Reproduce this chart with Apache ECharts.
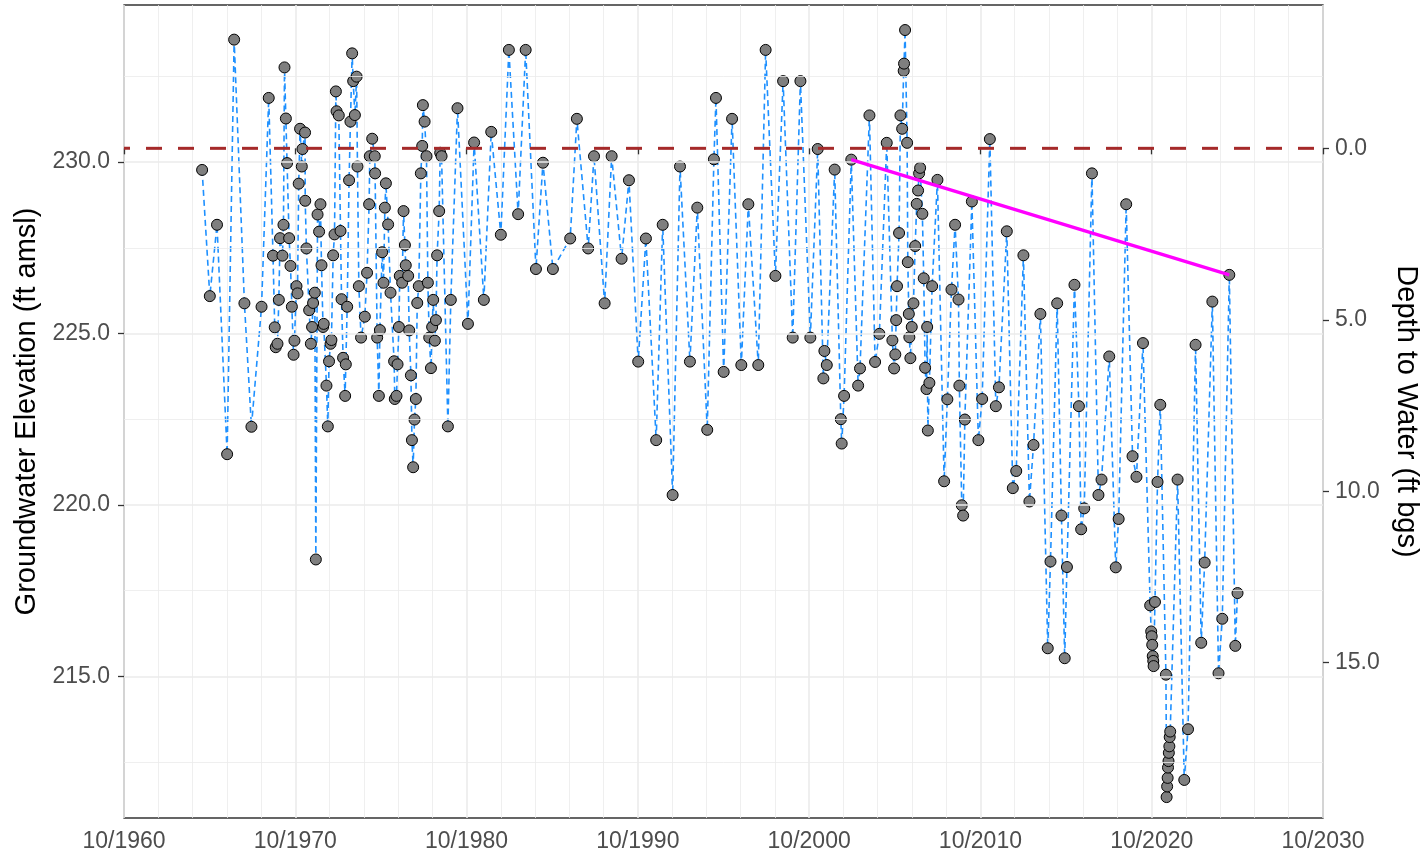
<!DOCTYPE html>
<html>
<head>
<meta charset="utf-8">
<script src="https://cdn.jsdelivr.net/npm/echarts@6/dist/echarts.min.js"></script>
<style>
  html, body { margin: 0; padding: 0; background: #ffffff; }
  #chart { width: 1426px; height: 857px; }
</style>
</head>
<body>
<div id="chart"></div>
<script>
// ---- data (decimal years, elevation in ft amsl) ----
const X0 = 1960.75; // 10/1960, left end of the time axis
const dates = [
1965.31,1965.76,1966.18,1966.77,1967.18,1967.78,1968.19,1968.78,1969.20,1969.45,
1969.55,1969.61,1969.71,1969.79,1969.86,1970.00,1970.06,1970.12,1970.20,1970.27,
1970.39,1970.47,1970.55,1970.65,1970.70,1970.82,1970.88,1970.95,1971.03,1971.13,
1971.17,1971.32,1971.33,1971.40,1971.56,1971.66,1971.73,1971.79,1971.89,1971.95,
1972.05,1972.14,1972.22,1972.28,1972.37,1972.41,1972.57,1972.65,1972.72,1972.81,
1972.86,1972.96,1973.04,1973.12,1973.16,1973.29,1973.39,1973.45,1973.54,1973.66,
1973.70,1973.78,1973.89,1973.97,1974.07,1974.13,1974.23,1974.33,1974.38,1974.46,
1974.59,1974.81,1974.94,1975.06,1975.10,1975.24,1975.39,1975.41,1975.53,1975.63,
1975.69,1975.82,1975.90,1975.98,1976.04,1976.17,1976.31,1976.52,1976.56,1976.66,
1976.72,1976.80,1976.85,1976.99,1977.07,1977.15,1977.20,1977.34,1977.40,1977.50,
1977.56,1977.63,1977.71,1977.79,1977.87,1977.96,1978.08,1978.16,1978.20,1978.30,
1978.41,1978.49,1978.57,1978.67,1978.74,1978.80,1978.90,1978.96,1979.03,1979.15,
1979.21,1979.29,1979.66,1979.83,1980.22,1980.83,1981.19,1981.76,1982.19,1982.75,
1983.22,1983.76,1984.20,1984.80,1985.21,1985.79,1986.80,1987.19,1987.85,1988.19,
1988.81,1989.22,1989.80,1990.23,1990.77,1991.22,1991.82,1992.20,1992.78,1993.21,
1993.79,1994.22,1994.80,1995.19,1995.31,1995.76,1996.25,1996.79,1997.20,1997.78,
1998.21,1998.78,1999.23,1999.79,2000.24,2000.82,2001.25,2001.58,2001.64,2001.78,
2002.24,2002.60,2002.65,2002.79,2003.21,2003.61,2003.72,2004.27,2004.60,2004.85,
2005.28,2005.61,2005.71,2005.78,2005.83,2005.88,2006.00,2006.08,2006.18,2006.27,
2006.29,2006.35,2006.47,2006.51,2006.57,2006.60,2006.66,2006.74,2006.84,2006.94,
2007.03,2007.11,2007.17,2007.23,2007.36,2007.44,2007.52,2007.60,2007.64,2007.68,
2007.77,2007.93,2008.24,2008.63,2008.82,2009.06,2009.27,2009.47,2009.52,2009.66,
2009.74,2009.84,2010.25,2010.63,2010.85,2011.30,2011.65,2011.83,2012.29,2012.64,
2012.84,2013.26,2013.61,2013.85,2014.25,2014.68,2014.84,2015.23,2015.48,2015.67,
2015.80,2016.24,2016.50,2016.63,2016.81,2017.26,2017.64,2017.82,2018.27,2018.65,
2018.82,2019.26,2019.63,2019.86,2020.24,2020.66,2020.72,2020.75,2020.78,2020.81,
2020.84,2020.86,2020.94,2021.09,2021.25,2021.58,2021.62,2021.65,2021.68,2021.70,
2021.73,2021.75,2021.78,2021.80,2021.83,2022.26,2022.65,2022.87,2023.31,2023.64,
2023.84,2024.29,2024.65,2024.87,2025.28,2025.63,2025.76
];
const elevations = [
229.77,226.09,228.17,221.48,233.57,225.88,222.28,225.78,231.87,227.27,
225.18,224.60,224.70,225.98,227.78,227.27,228.17,232.76,231.27,229.97,
227.78,226.97,225.78,224.38,224.79,226.38,226.17,229.37,230.97,229.87,
230.38,230.86,228.87,227.48,225.68,224.70,225.19,225.89,226.19,218.41,
228.47,227.97,228.77,226.99,225.19,225.28,223.48,222.29,224.19,224.70,
224.81,227.28,227.89,232.06,231.48,231.36,227.99,226.00,224.29,223.18,
224.10,225.78,229.47,231.18,233.17,232.36,231.37,232.49,229.87,226.38,
224.88,225.49,226.77,228.77,230.17,230.68,230.17,229.67,224.88,223.18,
225.10,227.37,226.48,228.67,229.38,228.18,226.19,224.19,223.09,223.18,
224.10,225.19,226.68,226.48,228.57,227.58,226.99,226.68,225.09,223.78,
221.89,221.10,222.49,223.09,225.89,226.38,229.67,230.47,231.66,231.18,
230.17,226.48,224.88,223.99,225.19,225.98,224.79,225.39,227.28,228.57,
230.27,230.17,222.29,225.98,231.57,225.28,230.57,225.98,230.88,227.88,
233.27,228.48,233.27,226.88,229.98,226.88,227.77,231.26,227.48,230.17,
225.88,230.17,227.18,229.47,224.18,227.77,221.89,228.17,220.29,229.87,
224.18,228.67,222.19,230.08,231.87,223.88,231.26,224.08,228.77,224.08,
233.27,226.68,232.36,224.88,232.36,224.88,230.38,223.69,224.49,224.08,
229.78,222.50,221.79,223.18,230.07,223.48,223.98,231.36,224.17,224.99,
230.56,224.80,223.98,224.39,225.39,226.38,227.93,231.36,230.97,232.66,
232.87,233.85,230.56,227.08,225.57,224.89,224.28,225.19,225.88,227.55,
228.78,229.17,229.67,229.83,228.49,226.61,224.00,223.38,225.19,222.17,
223.56,226.38,229.48,220.69,223.08,226.28,228.17,225.99,223.48,219.99,
219.69,222.49,228.85,221.89,223.09,230.67,222.88,223.43,227.98,220.49,
220.99,227.28,220.10,221.75,225.57,215.82,218.35,225.88,219.69,215.53,
218.19,226.42,222.88,219.29,219.90,229.67,220.29,220.74,224.33,218.18,
219.59,228.77,221.42,220.82,224.72,217.07,216.31,216.17,215.92,215.59,
215.45,215.30,217.17,220.67,222.92,215.05,211.48,211.79,212.04,212.34,
212.53,212.77,212.96,213.23,213.39,220.74,211.98,213.46,224.67,215.98,
218.32,225.93,215.09,216.68,226.71,215.89,217.43
];
const trendDates = [2003.21, 2025.28];
const trendElev = [230.07, 226.71];
const groundSurface = 230.40;          // depth 0.0
const elevTicks = [215, 220, 225, 230];
const depthTicks = [0, 5, 10, 15];
const elevMajorGrid = [215, 220, 225, 230];
const elevMinorGrid = [212.5, 217.5, 222.5, 227.5, 232.5];
const xSpan = 70;                      // 10/1960 .. 10/2030
const yMin = 210.87, yMax = 234.58;

// ---- build ----
const pts = dates.map((d, i) => [d - X0, elevations[i]]);
const trend = trendDates.map((d, i) => [d - X0, trendElev[i]]);
const FONT = '"Liberation Sans", Arial, Helvetica, sans-serif';
const TICK = { show: true, inside: false, length: 6, lineStyle: { color: '#333333', width: 1.3 } };

const chart = echarts.init(document.getElementById('chart'), null, { renderer: 'canvas' });
chart.setOption({
  animation: false,
  backgroundColor: '#ffffff',
  textStyle: { fontFamily: FONT },
  grid: { left: 124, right: 103, top: 5, bottom: 39, show: true, borderColor: '#333333', borderWidth: 1.3,
    backgroundColor: 'transparent', containLabel: false, outerBoundsMode: 'none' },
  xAxis: {
    type: 'value', min: 0, max: xSpan, interval: 10,
    axisLine: { show: false },
    axisTick: TICK,
    axisLabel: { fontSize: 23, color: '#4D4D4D', margin: 12, fontFamily: FONT,
      formatter: v => '10/' + Math.floor(X0 + v) },
    splitLine: { show: true, lineStyle: { color: '#EBEBEB', width: 1.6 } },
    minorTick: { show: false, splitNumber: 5 },
    minorSplitLine: { show: true, lineStyle: { color: '#EBEBEB', width: 0.8 } }
  },
  yAxis: [
    {
      type: 'value', position: 'left', min: yMin, max: yMax,
      axisLine: { show: false },
      axisTick: Object.assign({ customValues: elevTicks }, TICK),
      axisLabel: { customValues: elevTicks, fontSize: 23, color: '#4D4D4D', margin: 14, fontFamily: FONT,
        formatter: v => Number(v).toFixed(1) },
      splitLine: { show: false },
      name: 'Groundwater Elevation (ft amsl)', nameLocation: 'middle', nameGap: 80, nameRotate: 90,
      nameTextStyle: { fontSize: 29, color: '#000000', fontFamily: FONT }
    },
    {
      type: 'value', position: 'right', inverse: true,
      min: groundSurface - yMax, max: groundSurface - yMin,
      axisLine: { show: false },
      axisTick: Object.assign({ customValues: depthTicks }, TICK),
      axisLabel: { customValues: depthTicks, fontSize: 23, color: '#4D4D4D', margin: 12, fontFamily: FONT,
        formatter: v => Number(v).toFixed(1) },
      splitLine: { show: false },
      name: 'Depth to Water (ft bgs)', nameLocation: 'middle', nameGap: 68, nameRotate: -90,
      nameTextStyle: { fontSize: 29, color: '#000000', fontFamily: FONT }
    }
  ],
  series: [
    {
      name: 'grid', type: 'line', data: [], z: 1, silent: true,
      markLine: {
        silent: true, symbol: ['none', 'none'], label: { show: false }, animation: false,
        data: elevMajorGrid.map(v => ({ yAxis: v, lineStyle: { color: '#EBEBEB', width: 1.6, type: 'solid' } }))
          .concat(elevMinorGrid.map(v => ({ yAxis: v, lineStyle: { color: '#EBEBEB', width: 0.8, type: 'solid' } })))
      }
    },
    {
      name: 'obsLine', type: 'line', data: pts, z: 3, symbol: 'none', silent: true,
      lineStyle: { color: '#1E90FF', width: 1.6, type: [6, 4] }
    },
    {
      name: 'obs', type: 'scatter', data: pts, z: 4, symbol: 'circle', symbolSize: 11,
      itemStyle: { color: '#7F7F7F', borderColor: '#000000', borderWidth: 1, opacity: 1 }
    },
    {
      name: 'ground', type: 'line', data: [[0, groundSurface], [xSpan, groundSurface]], z: 5,
      symbol: 'none', silent: true,
      lineStyle: { color: '#A52A2A', width: 3, type: [16, 16], dashOffset: 10 }
    },
    {
      name: 'trend', type: 'line', data: trend, z: 6, symbol: 'none', silent: true,
      lineStyle: { color: '#FF00FF', width: 3.2 }
    }
  ]
});
</script>
</body>
</html>
